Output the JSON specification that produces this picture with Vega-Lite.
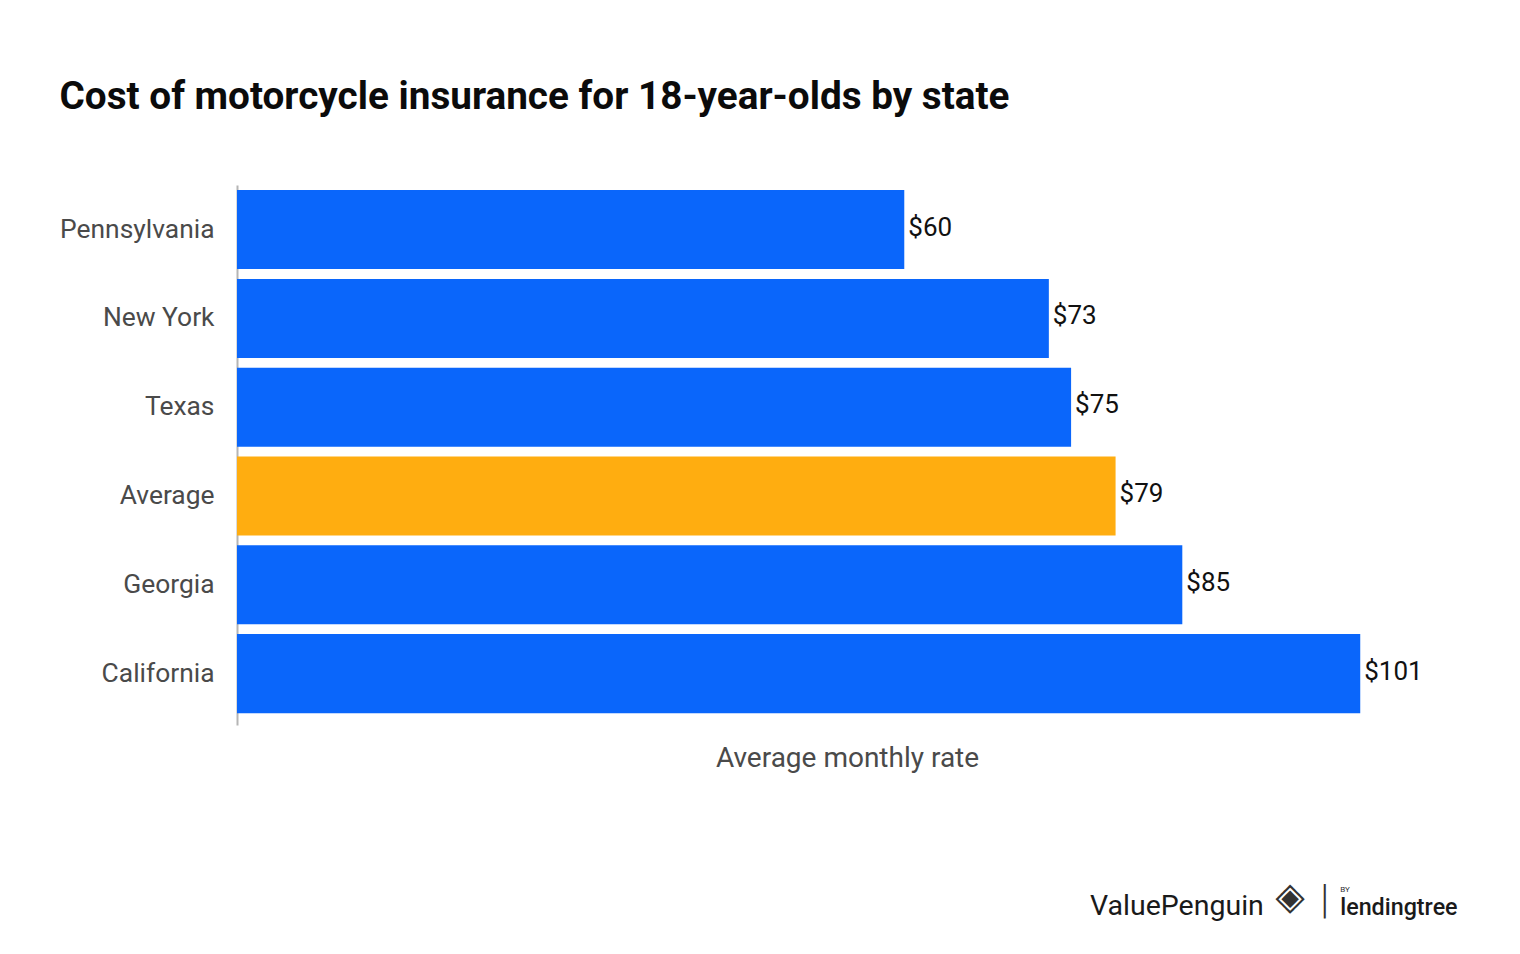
{
  "$schema": "https://vega.github.io/schema/vega-lite/v6.json",
  "width": 1220,
  "height": 540,
  "autosize": "none",
  "padding": { "left": 237, "top": 185, "right": 63, "bottom": 229 },
  "background": "white",
  "view": { "stroke": null },
  "title": {
    "text": "Cost of motorcycle insurance for 18-year-olds by state",
    "anchor": "start",
    "font": "Roboto",
    "fontSize": 38.7,
    "fontWeight": "bold",
    "color": "#0b0b0b",
    "dx": 0,
    "offset": 68
  },
  "datasets": {
    "rates": [
      { "state": "Pennsylvania", "rate": 60, "kind": "state" },
      { "state": "New York", "rate": 73, "kind": "state" },
      { "state": "Texas", "rate": 75, "kind": "state" },
      { "state": "Average", "rate": 79, "kind": "average" },
      { "state": "Georgia", "rate": 85, "kind": "state" },
      { "state": "California", "rate": 101, "kind": "state" }
    ],
    "logo": [{ "state": "California" }]
  },
  "encoding": {
    "y": {
      "field": "state",
      "type": "nominal",
      "sort": null,
      "title": null,
      "scale": {
        "domain": ["Pennsylvania", "New York", "Texas", "Average", "Georgia", "California"],
        "paddingInner": 0.11,
        "paddingOuter": 0.0955,
        "align": 0.3
      },
      "axis": {
        "ticks": false,
        "labelFont": "Roboto",
        "labelFontSize": 26.4,
        "labelColor": "#4a4a4a",
        "labelPadding": 23,
        "domainColor": "#b5b5b5",
        "domainWidth": 2
      }
    }
  },
  "layer": [
    {
      "data": { "name": "rates" },
      "mark": "bar",
      "encoding": {
        "x": {
          "field": "rate",
          "type": "quantitative",
          "title": "Average monthly rate",
          "scale": { "domain": [0, 109.7], "nice": false },
          "axis": {
            "labels": false,
            "ticks": false,
            "grid": false,
            "domain": false,
            "titleFont": "Roboto",
            "titleFontSize": 28,
            "titleFontWeight": "normal",
            "titleColor": "#4a4a4a",
            "titlePadding": 19
          }
        },
        "color": {
          "field": "kind",
          "type": "nominal",
          "scale": { "domain": ["state", "average"], "range": ["#0a66fb", "#ffad10"] },
          "legend": null
        }
      }
    },
    {
      "data": { "name": "rates" },
      "mark": {
        "type": "text",
        "align": "left",
        "baseline": "middle",
        "dx": 4,
        "dy": -2,
        "font": "Roboto",
        "fontSize": 26,
        "color": "#111111"
      },
      "encoding": {
        "x": { "field": "rate", "type": "quantitative" },
        "text": { "field": "rate", "type": "quantitative", "format": "$.0f" }
      }
    },
    {
      "data": { "name": "logo" },
      "mark": { "type": "text", "align": "left", "baseline": "middle", "dy": 232, "font": "Roboto", "fontSize": 28.5, "color": "#1a1a1a" },
      "encoding": {
        "x": { "datum": 76.7, "type": "quantitative" },
        "text": { "value": "ValuePenguin" }
      }
    },
    {
      "data": { "name": "logo" },
      "mark": { "type": "text", "align": "center", "baseline": "middle", "dy": 224, "font": "DejaVu Sans", "fontSize": 38, "color": "#333333" },
      "encoding": {
        "x": { "datum": 94.7, "type": "quantitative" },
        "text": { "value": "◈" }
      }
    },
    {
      "data": { "name": "logo" },
      "mark": { "type": "text", "align": "center", "baseline": "middle", "dy": 227, "font": "Roboto", "fontSize": 40, "fontWeight": 300, "color": "#333333" },
      "encoding": {
        "x": { "datum": 97.8, "type": "quantitative" },
        "text": { "value": "|" }
      }
    },
    {
      "data": { "name": "logo" },
      "mark": { "type": "text", "align": "left", "baseline": "middle", "dy": 234, "font": "Roboto", "fontSize": 23.3, "fontWeight": 500, "color": "#1a1a1a" },
      "encoding": {
        "x": { "datum": 99.2, "type": "quantitative" },
        "text": { "value": "lendingtree" }
      }
    },
    {
      "data": { "name": "logo" },
      "mark": { "type": "text", "align": "left", "baseline": "middle", "dy": 216, "font": "Roboto", "fontSize": 8, "color": "#333333" },
      "encoding": {
        "x": { "datum": 99.2, "type": "quantitative" },
        "text": { "value": "BY" }
      }
    }
  ]
}
